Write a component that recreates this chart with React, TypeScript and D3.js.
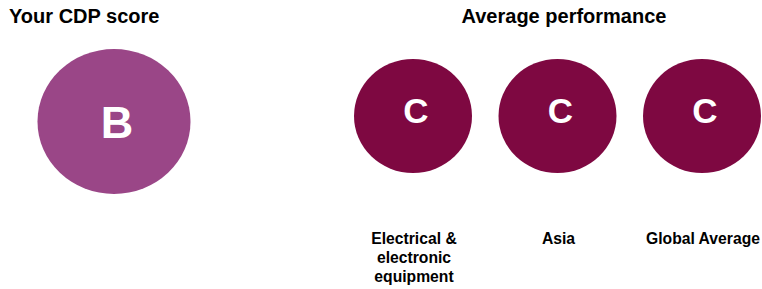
import * as d3 from 'd3';

// Score shown for the company and the three comparison groups.
const YOUR_SCORE = 'B';
const AVERAGE_GROUPS = ['Electrical & electronic equipment', 'Asia', 'Global Average'];
const AVERAGE_SCORES = ['C', 'C', 'C'];
// Wrapped label lines, one list per group.
const GROUP_LABEL_LINES = [['Electrical &', 'electronic', 'equipment'], ['Asia'], ['Global Average']];

const WIDTH = 762;
const HEIGHT = 289;
const FONT = 'Liberation Sans, Arial, Helvetica, sans-serif';
const YOUR_COLOR = '#9a4687';
const AVG_COLOR = '#7e0841';

export default function App() {
  // Horizontal placement of the average circles.
  const xScale = d3.scalePoint<string>().domain(AVERAGE_GROUPS).range([413, 702]);

  return (
    <svg
      width={WIDTH}
      height={HEIGHT}
      viewBox={`0 0 ${WIDTH} ${HEIGHT}`}
      style={{ position: 'absolute', left: 0, top: 0, display: 'block', background: '#ffffff' }}
      fontFamily={FONT}
    >
      {/* ---- Left panel: own score ---- */}
      <text x={9} y={23} fontSize={20} fontWeight="bold" fill="#000">
        Your CDP score
      </text>
      <ellipse cx={114} cy={121.5} rx={76.5} ry={72.5} fill={YOUR_COLOR} />
      <text
        x={117}
        y={122}
        fontSize={45}
        fontWeight="bold"
        fill="#ffffff"
        textAnchor="middle"
        dominantBaseline="central"
      >
        {YOUR_SCORE}
      </text>

      {/* ---- Right panel: average performance ---- */}
      <text x={564} y={23} fontSize={20} fontWeight="bold" fill="#000" textAnchor="middle">
        Average performance
      </text>
      {AVERAGE_GROUPS.map((group, i) => {
        const cx = xScale(group) ?? 0;
        return (
          <g key={group}>
            <ellipse cx={cx} cy={116} rx={59} ry={57} fill={AVG_COLOR} />
            <text
              x={cx + 3}
              y={110}
              fontSize={35}
              fontWeight="bold"
              fill="#ffffff"
              textAnchor="middle"
              dominantBaseline="central"
            >
              {AVERAGE_SCORES[i]}
            </text>
            <text x={cx + 1} y={244} fontSize={15.7} fontWeight="bold" fill="#000" textAnchor="middle">
              {GROUP_LABEL_LINES[i].map((line, j) => (
                <tspan key={line} x={cx + 1} dy={j === 0 ? 0 : 19}>
                  {line}
                </tspan>
              ))}
            </text>
          </g>
        );
      })}
    </svg>
  );
}
